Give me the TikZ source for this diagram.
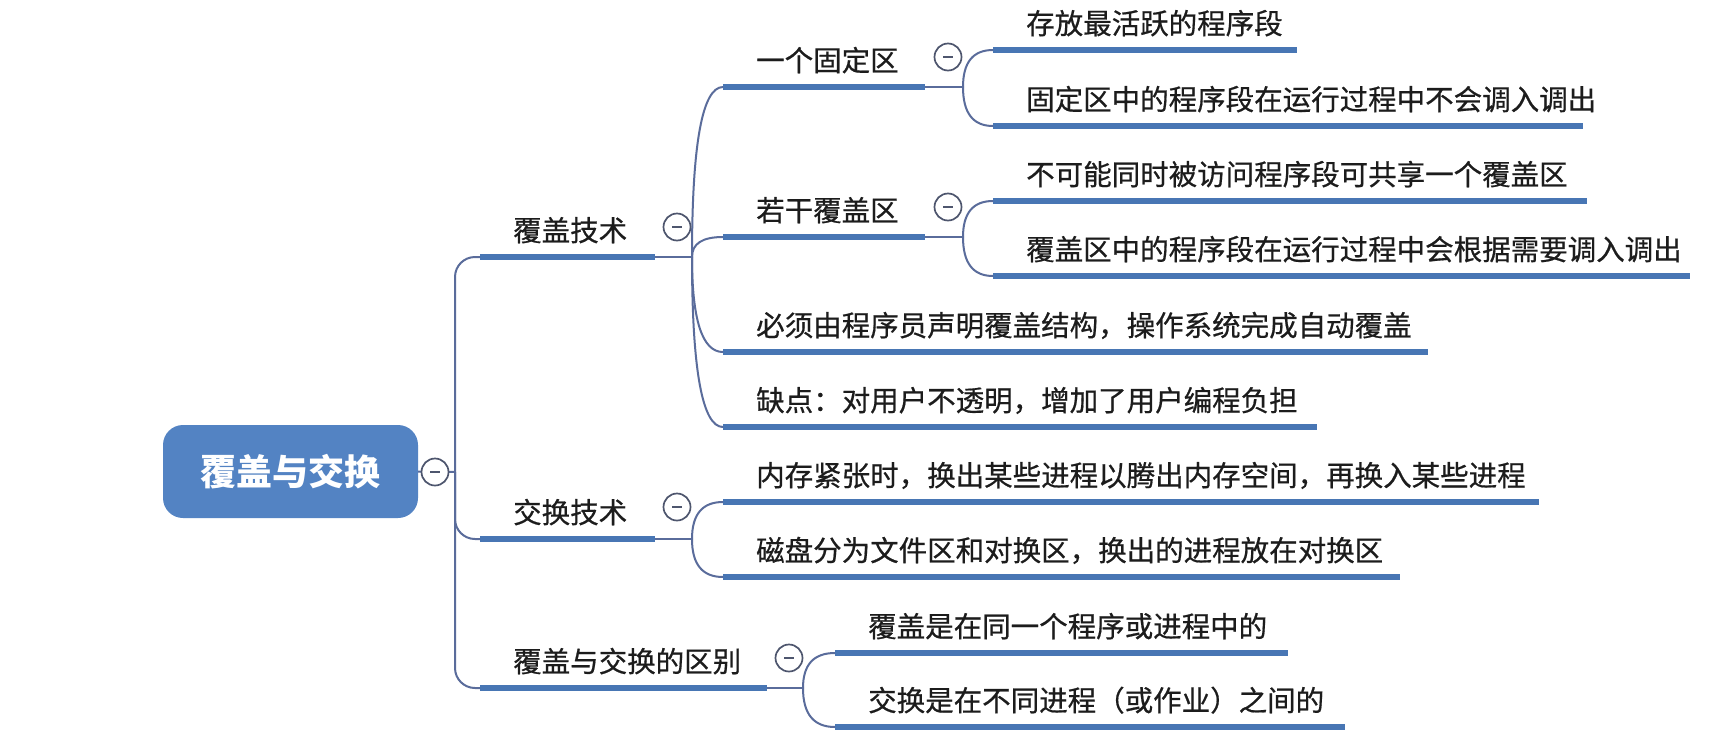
\documentclass[tikz,border=0pt]{standalone}
\usepackage{fontspec}
\setmainfont{Noto Sans CJK SC}
\newfontfamily\lblfont{Noto Sans CJK SC}[FakeBold=0.6]
\usetikzlibrary{calc}
\definecolor{rootblue}{RGB}{83,131,195}
\definecolor{ulblue}{RGB}{72,118,180}
\definecolor{connc}{RGB}{90,108,155}
\definecolor{btnc}{RGB}{78,86,110}
\definecolor{txtc}{RGB}{28,28,28}
\tikzset{
  lbl/.style={inner sep=0pt, anchor=base west, text=txtc, font=\lblfont\fontsize{28.5}{34}\selectfont},
  rootbox/.style={fill=rootblue, rounded corners=20pt, minimum width=255pt, minimum height=93pt, inner sep=0pt, text=white, font=\fontsize{36}{42}\selectfont\bfseries},
  uline/.style={line width=6.5pt, ulblue},
  connline/.style={line width=2pt, connc},
  qcurve/.style={to path={.. controls ($(\tikztostart)!0.6667!(\tikztostart|-\tikztotarget)$) and ($(\tikztotarget)!0.6667!(\tikztostart|-\tikztotarget)$) .. (\tikztotarget)}},
  btn/.style={circle, draw=btnc, line width=1.7pt, fill=white, minimum size=27pt, inner sep=0pt,
    path picture={\draw[btnc, line width=1.7pt] ([xshift=-5pt]path picture bounding box.center) -- ([xshift=5pt]path picture bounding box.center);}},
}
\newcommand\mtopic[5]{%
  \coordinate (#1s) at (#2,#4);
  \coordinate (#1e) at (#3,#4);
  \node[lbl] (#1) at ($(#1s)+(33,-16)$) {#5};
  \draw[uline] (#1s) -- (#1e);
}
\begin{document}
\begin{tikzpicture}[x=1pt,y=-1pt]
\useasboundingbox[fill=white] (0,0) rectangle (1722,734);
% root
\node[rootbox] (root) at (290.5,471.5) {覆盖与交换};
\coordinate (rb) at (455,472);
% level 1
\mtopic{A1}{480}{655}{257}{覆盖技术}
\mtopic{A2}{480}{655}{539}{交换技术}
\mtopic{A3}{480}{767}{688}{覆盖与交换的区别}
\coordinate (A1b) at (692,257);
\coordinate (A2b) at (692,539);
\coordinate (A3b) at (803,688);
% level 2
\mtopic{B1}{723}{925}{87}{一个固定区}
\mtopic{B2}{723}{925}{237}{若干覆盖区}
\mtopic{B3}{723}{1428}{352}{必须由程序员声明覆盖结构，操作系统完成自动覆盖}
\mtopic{B4}{723}{1317}{427}{缺点：对用户不透明，增加了用户编程负担}
\mtopic{B5}{723}{1539}{502}{内存紧张时，换出某些进程以腾出内存空间，再换入某些进程}
\mtopic{B6}{723}{1400}{577}{磁盘分为文件区和对换区，换出的进程放在对换区}
\mtopic{B7}{835}{1288}{653}{覆盖是在同一个程序或进程中的}
\mtopic{B8}{835}{1345}{727}{交换是在不同进程（或作业）之间的}
\coordinate (B1b) at (963,87);
\coordinate (B2b) at (963,237);
% level 3
\mtopic{C1}{993}{1297}{50}{存放最活跃的程序段}
\mtopic{C2}{993}{1583}{126}{固定区中的程序段在运行过程中不会调入调出}
\mtopic{C3}{993}{1587}{201}{不可能同时被访问程序段可共享一个覆盖区}
\mtopic{C4}{993}{1690}{276}{覆盖区中的程序段在运行过程中会根据需要调入调出}
% connectors
\draw[connline] (root.east) -- (rb);
\draw[connline, rounded corners=20pt] (rb) |- (A1s);
\draw[connline, rounded corners=20pt] (rb) |- (A2s);
\draw[connline, rounded corners=20pt] (rb) |- (A3s);
\draw[connline] (A1e) -- (A1b);
\draw[connline] (A2e) -- (A2b);
\draw[connline] (A3e) -- (A3b);
\draw[connline] (A1b) to[qcurve] (B1s);
\draw[connline] (A1b) to[qcurve] (B2s);
\draw[connline] (A1b) to[qcurve] (B3s);
\draw[connline] (A1b) to[qcurve] (B4s);
\draw[connline] (A2b) to[qcurve] (B5s);
\draw[connline] (A2b) to[qcurve] (B6s);
\draw[connline] (A3b) to[qcurve] (B7s);
\draw[connline] (A3b) to[qcurve] (B8s);
\draw[connline] (B1e) -- (B1b);
\draw[connline] (B2e) -- (B2b);
\draw[connline] (B1b) to[qcurve] (C1s);
\draw[connline] (B1b) to[qcurve] (C2s);
\draw[connline] (B2b) to[qcurve] (C3s);
\draw[connline] (B2b) to[qcurve] (C4s);
% collapse buttons
\node[btn] (k0) at (435,472) {};
\node[btn] (k1) at (677,227) {};
\node[btn] (k2) at (677,507) {};
\node[btn] (k3) at (789,658) {};
\node[btn] (k4) at (948,57) {};
\node[btn] (k5) at (948,207) {};
\end{tikzpicture}
\end{document}
